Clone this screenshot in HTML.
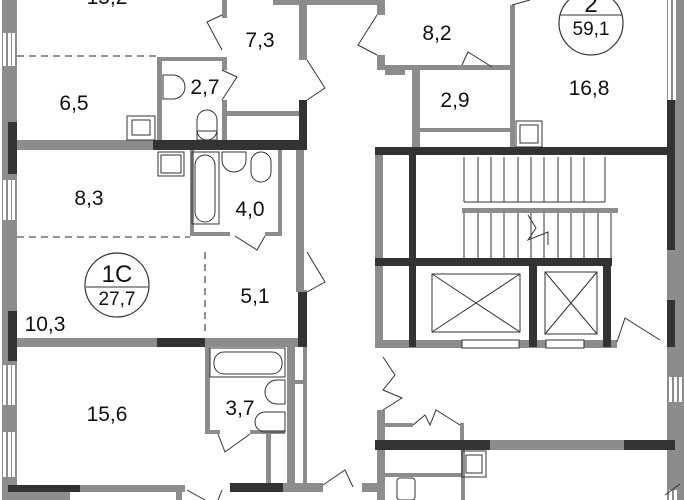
<!DOCTYPE html>
<html><head><meta charset="utf-8"><style>
html,body{margin:0;padding:0;background:#fff;}
svg{display:block}
text{font-family:"Liberation Sans",sans-serif;fill:#111;text-anchor:middle;}
</style></head><body>
<svg width="684" height="500" viewBox="0 0 684 500" xmlns="http://www.w3.org/2000/svg">
<g fill="#8c8c8c">
 <rect x="2" y="0" width="15" height="500"/>
 <rect x="222" y="0" width="5" height="18"/>
 <rect x="273" y="0" width="112" height="5"/>
 <rect x="299" y="0" width="8" height="60"/>
 <rect x="377" y="0" width="8" height="15"/>
 <rect x="377" y="55" width="8" height="10"/>
 <rect x="377" y="65" width="135" height="5"/>
 <rect x="510" y="5" width="5" height="145"/>
 <rect x="412" y="68" width="8" height="82"/>
 <rect x="420" y="128" width="90" height="4"/>
 <rect x="385" y="70" width="20" height="5"/>
 <rect x="157" y="57" width="5" height="84"/>
 <rect x="157" y="57" width="68" height="4"/>
 <rect x="222" y="57" width="5" height="13"/>
 <rect x="222" y="100" width="5" height="42"/>
 <rect x="227" y="111" width="72" height="5"/>
 <rect x="16" y="140" width="140" height="10"/>
 <rect x="190" y="150" width="4" height="85"/>
 <rect x="190" y="232" width="40" height="4"/>
 <rect x="278" y="150" width="4" height="85"/>
 <rect x="265" y="232" width="17" height="4"/>
 <rect x="16" y="338" width="141" height="9"/>
 <rect x="205" y="338" width="93" height="9"/>
 <rect x="205" y="347" width="5" height="86"/>
 <rect x="205" y="430" width="15" height="4"/>
 <rect x="250" y="430" width="35" height="4"/>
 <rect x="266" y="434" width="5" height="50"/>
 <rect x="287" y="347" width="8" height="140"/>
 <rect x="303" y="290" width="4" height="197"/>
 <rect x="295" y="380" width="10" height="4"/>
 <rect x="296" y="150" width="8" height="142"/>
 <rect x="80" y="485" width="105" height="7"/>
 <rect x="8" y="492" width="62" height="8"/>
 <rect x="176" y="488" width="6" height="12"/>
 <rect x="283" y="483" width="40" height="9"/>
 <rect x="362" y="483" width="16" height="9"/>
 <rect x="375" y="150" width="8" height="198"/>
 <rect x="375" y="340" width="242" height="8"/>
 <rect x="377" y="410" width="8" height="90"/>
 <rect x="385" y="423" width="28" height="4"/>
 <rect x="460" y="423" width="4" height="20"/>
 <rect x="490" y="440" width="134" height="10"/>
 <rect x="461" y="450" width="4" height="50"/>
 <rect x="385" y="473" width="76" height="4"/>
 <rect x="462" y="208" width="156" height="5"/>
 <rect x="667" y="0" width="17" height="500"/>
</g>
<g fill="#fff">
 <rect x="3" y="33" width="3" height="33"/><rect x="8" y="33" width="3" height="33"/><rect x="12" y="33" width="3" height="33"/>
 <rect x="3" y="180" width="3" height="40"/><rect x="8" y="180" width="3" height="40"/><rect x="12" y="180" width="3" height="40"/>
 <rect x="3" y="365" width="3" height="40"/><rect x="8" y="365" width="3" height="40"/><rect x="12" y="365" width="3" height="40"/>
 <rect x="3" y="432" width="3" height="45"/><rect x="8" y="432" width="3" height="45"/><rect x="12" y="432" width="3" height="45"/>
 <rect x="668" y="0" width="3" height="100"/><rect x="673" y="0" width="3" height="100"/>
 <rect x="669" y="377" width="3" height="25"/><rect x="674" y="377" width="3" height="25"/><rect x="679" y="377" width="3" height="25"/>
 <rect x="669" y="490" width="3" height="10"/><rect x="674" y="490" width="3" height="10"/>
 <rect x="462" y="340" width="57" height="8" stroke="#333" stroke-width="1"/>
 <rect x="546" y="340" width="38" height="8" stroke="#333" stroke-width="1"/>
</g>
<g fill="#333">
 <rect x="8" y="122" width="9" height="52"/>
 <rect x="8" y="311" width="9" height="50"/>
 <rect x="153" y="140" width="154" height="10"/>
 <rect x="299" y="100" width="8" height="50"/>
 <rect x="157" y="338" width="48" height="9"/>
 <rect x="298" y="292" width="9" height="55"/>
 <rect x="8" y="485" width="72" height="7"/>
 <rect x="230" y="483" width="53" height="9"/>
 <rect x="375" y="147" width="292" height="8"/>
 <rect x="667" y="100" width="8" height="150"/>
 <rect x="667" y="300" width="8" height="47"/>
 <rect x="409" y="155" width="7" height="192"/>
 <rect x="375" y="258" width="237" height="8"/>
 <rect x="529" y="266" width="8" height="81"/>
 <rect x="603" y="266" width="8" height="81"/>
 <rect x="375" y="440" width="115" height="10"/>
 <rect x="624" y="440" width="51" height="10"/>
</g>
<g stroke="#555" stroke-width="1.3" stroke-dasharray="7,5" fill="none">
 <line x1="17" y1="56" x2="157" y2="56"/>
 <line x1="17" y1="237" x2="190" y2="237"/>
 <line x1="205" y1="252" x2="205" y2="335"/>
</g>
<g stroke="#333" stroke-width="1" fill="none">
 <line x1="464" y1="157" x2="464" y2="202"/>
 <line x1="464" y1="202" x2="605" y2="202"/>
 <line x1="478" y1="157" x2="478" y2="202"/><line x1="491" y1="157" x2="491" y2="202"/><line x1="504" y1="157" x2="504" y2="202"/><line x1="518" y1="157" x2="518" y2="202"/><line x1="531" y1="157" x2="531" y2="202"/><line x1="544" y1="157" x2="544" y2="202"/><line x1="558" y1="157" x2="558" y2="202"/><line x1="571" y1="157" x2="571" y2="202"/><line x1="584" y1="157" x2="584" y2="202"/><line x1="605" y1="157" x2="605" y2="202"/>
 <line x1="464" y1="213" x2="464" y2="258"/><line x1="478" y1="213" x2="478" y2="258"/><line x1="491" y1="213" x2="491" y2="258"/><line x1="504" y1="213" x2="504" y2="258"/><line x1="518" y1="213" x2="518" y2="258"/><line x1="531" y1="213" x2="531" y2="258"/><line x1="544" y1="213" x2="544" y2="258"/><line x1="558" y1="213" x2="558" y2="258"/><line x1="571" y1="213" x2="571" y2="258"/><line x1="584" y1="213" x2="584" y2="258"/><line x1="598" y1="213" x2="598" y2="258"/><line x1="611" y1="213" x2="611" y2="258"/>
 <polyline points="528,215 536,228 528,240 548,232 548,245"/>
 <rect x="432" y="274" width="88" height="58"/><line x1="432" y1="274" x2="520" y2="332"/><line x1="520" y1="274" x2="432" y2="332"/>
 <rect x="545" y="272" width="52" height="62"/><line x1="545" y1="272" x2="597" y2="334"/><line x1="597" y1="272" x2="545" y2="334"/>
 <polyline points="222,15 207,22 222,50"/>
 <polyline points="222,70 237,77 222,100"/>
 <polyline points="307,60 325,88 307,100"/>
 <polyline points="377,15 358,45 377,55"/>
 <polyline points="462,65 468,52 492,67"/>
 <polyline points="512,5 530,0"/>
 <polyline points="235,236 257,250 265,236"/>
 <polyline points="307,252 325,282 307,292"/>
 <polyline points="218,434 225,452 250,434"/>
 <polyline points="187,490 205,500"/><polyline points="222,490 218,500"/>
 <polyline points="323,485 345,470 353,487"/>
 <polyline points="383,357 395,375 383,390 402,398 383,410"/>
 <polyline points="413,425 425,415 430,425 436,410 460,425"/>
 <polyline points="617,342 625,318 660,340"/>
 <polyline points="665,495 680,484"/>
 <path d="M163,75 h10 a10,10 0 0 1 0,24 h-10 z"/>
 <rect x="127" y="116" width="28" height="24"/><rect x="132" y="120" width="18" height="15"/>
 <rect x="197" y="110" width="20" height="30" rx="10"/><rect x="197" y="131" width="20" height="9"/>
 <rect x="158" y="152" width="26" height="24"/><rect x="161" y="155" width="20" height="18"/>
 <rect x="192" y="152" width="27" height="72"/><rect x="195" y="155" width="20" height="67" rx="10"/>
 <path d="M222,152 v8 a12,12 0 0 0 24,0 v-8 z"/>
 <rect x="251" y="152" width="20" height="30" rx="10"/>
 <rect x="210" y="348" width="75" height="29"/><rect x="214" y="352" width="68" height="22" rx="10"/>
 <path d="M285,380 h-8 a10,10 0 0 0 0,24 h8 z"/>
 <path d="M285,412 h-20 a10,10 0 0 0 0,20 h20 z"/>
 <rect x="516" y="121" width="26" height="26"/><rect x="520" y="125" width="18" height="18"/>
 <rect x="462" y="451" width="24" height="26"/><rect x="466" y="455" width="16" height="18"/>
 <rect x="397" y="478" width="18" height="22" rx="3"/>
</g>
<circle cx="591" cy="23" r="32" fill="#fff" stroke="#333" stroke-width="1.2"/>
<line x1="560" y1="15" x2="622" y2="15" stroke="#333"/>
<circle cx="117" cy="285" r="32" fill="#fff" stroke="#333" stroke-width="1.2"/>
<line x1="86" y1="287" x2="148" y2="287" stroke="#333"/>
<g font-size="21">
 <text x="107" y="4">15,2</text>
 <text x="260" y="47">7,3</text>
 <text x="74" y="110">6,5</text>
 <text x="205" y="94">2,7</text>
 <text x="437" y="40">8,2</text>
 <text x="455" y="107">2,9</text>
 <text x="589" y="95">16,8</text>
 <text x="89" y="205">8,3</text>
 <text x="250" y="216">4,0</text>
 <text x="255" y="303">5,1</text>
 <text x="45" y="331">10,3</text>
 <text x="107" y="421">15,6</text>
 <text x="240" y="415">3,7</text>
 <text x="591" y="12" font-size="24">2</text>
 <text x="591" y="35" font-size="19">59,1</text>
 <text x="117" y="282" font-size="24">1С</text>
 <text x="117" y="305" font-size="19">27,7</text>
</g>
</svg>
</body></html>
